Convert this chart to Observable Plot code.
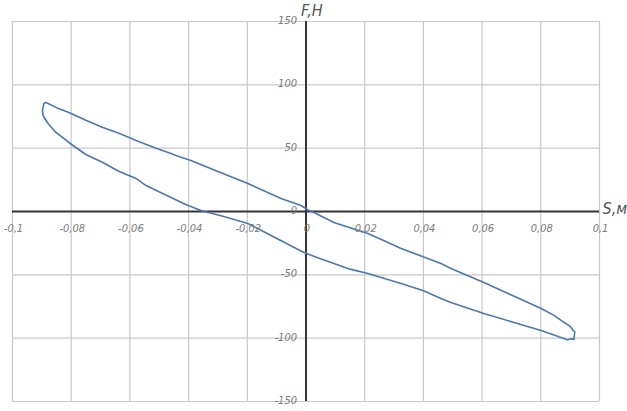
<!DOCTYPE html>
<html>
<head>
<meta charset="utf-8">
<script src="https://cdn.jsdelivr.net/npm/d3@7"></script>
<script src="https://cdn.jsdelivr.net/npm/@observablehq/plot@0.6"></script>
<style>
  html, body { margin: 0; padding: 0; background: #fff; }
  svg { overflow: visible; }
  svg text { font-stretch: condensed; }
</style>
</head>
<body>
<div id="chart"></div>
<script>
// Displacement S (m) and force F (N) read along the hysteresis loop
// upper branch (left tip -> right tip)
const upperS = [-0.0893, -0.0886, -0.0850, -0.0808, -0.0750, -0.0692, -0.0635, -0.0579, -0.0520, -0.0460, -0.0443, -0.0392, -0.0300, -0.0198, -0.0140, -0.0085, -0.0017, 0.0010, 0.0027, 0.0095, 0.0150, 0.0211, 0.0270, 0.0324, 0.0390, 0.0460, 0.0494, 0.0550, 0.0606, 0.0700, 0.0801, 0.0845, 0.0879, 0.0900, 0.0910, 0.0916, 0.0913];
const upperF = [85.3, 86.0, 82.0, 78.2, 72.0, 66.3, 61.5, 56.1, 50.8, 45.8, 44.2, 40.3, 31.5, 22.1, 16.0, 10.3, 4.7, 0.8, -0.8, -8.7, -12.8, -17.4, -23.5, -29.2, -35.0, -41.1, -45.0, -50.5, -56.1, -66.0, -76.6, -82.0, -87.6, -90.5, -93.9, -95.0, -100.3];
// lower branch (right tip -> left tip)
const lowerS = [0.0913, 0.0905, 0.0890, 0.0869, 0.0801, 0.0700, 0.0606, 0.0494, 0.0460, 0.0400, 0.0324, 0.0211, 0.0150, 0.0095, 0.0040, -0.0007, -0.0060, -0.0119, -0.0198, -0.0280, -0.0358, -0.0410, -0.0460, -0.0545, -0.0579, -0.0640, -0.0692, -0.0750, -0.0794, -0.0852, -0.0879, -0.0896, -0.0898, -0.0893];
const lowerF = [-101.0, -100.5, -101.2, -99.5, -93.9, -87.0, -80.5, -71.8, -68.7, -62.5, -56.8, -48.9, -45.5, -41.1, -36.5, -32.4, -26.0, -18.9, -9.5, -4.0, 0.8, 5.5, 11.1, 20.5, 26.1, 32.0, 38.7, 45.0, 52.1, 62.4, 69.5, 75.8, 80.0, 85.3];

// tick values and their labels
const xTicks = [-0.1, -0.08, -0.06, -0.04, -0.02, 0, 0.02, 0.04, 0.06, 0.08, 0.1];
const xTickLabels = ["-0,1", "-0,08", "-0,06", "-0,04", "-0,02", "0", "0,02", "0,04", "0,06", "0,08", "0,1"];
const yTicks = [150, 100, 50, 0, -50, -100, -150];
const yTickLabels = ["150", "100", "50", "0", "-50", "-100", "-150"];
const xName = "S,м";
const yName = "F,Н";

const loop = [
  ...upperS.map((s, i) => ({s, f: upperF[i]})),
  ...lowerS.map((s, i) => ({s, f: lowerF[i]}))
];
const xLab = xTicks.map((v, i) => ({v, t: xTickLabels[i]}));
const yLab = yTicks.map((v, i) => ({v, t: yTickLabels[i]}));

const font = "'DejaVu Sans Condensed', 'DejaVu Sans', sans-serif";

const chart = Plot.plot({
  width: 627,
  height: 411,
  marginLeft: 12,
  marginRight: 28,
  marginTop: 21,
  marginBottom: 10,
  style: {background: "#fff", fontFamily: font},
  x: {domain: [-0.1, 0.1], axis: null},
  y: {domain: [-150, 150], axis: null},
  marks: [
    Plot.ruleX(xTicks, {stroke: "#c9c9c9", strokeWidth: 1.2}),
    Plot.ruleY(yTicks, {stroke: "#c9c9c9", strokeWidth: 1.2}),
    Plot.ruleX([0], {stroke: "#333", strokeWidth: 2}),
    Plot.ruleY([0], {stroke: "#333", strokeWidth: 2}),
    Plot.line(loop, {x: "s", y: "f", stroke: "#4a78b0", strokeWidth: 1.6, curve: "linear"}),
    Plot.text(xLab, {x: "v", y: 0, text: "t", dx: 1, dy: 17, fill: "#7a7a7a", fontSize: 11, fontStyle: "italic", fontFamily: font}),
    Plot.text(yLab, {x: 0, y: "v", text: "t", dx: -9, dy: -1, textAnchor: "end", fill: "#7a7a7a", fontSize: 11, fontStyle: "italic", fontFamily: font}),
    Plot.text([xName], {x: 0.1, y: 0, text: d => d, dx: 3, dy: -3, textAnchor: "start", fill: "#555", fontSize: 16, fontStyle: "italic", fontFamily: font}),
    Plot.text([yName], {x: 0, y: 150, text: d => d, dx: -5, dy: -11, textAnchor: "start", fill: "#555", fontSize: 16, fontStyle: "italic", fontFamily: font})
  ]
});
document.getElementById("chart").appendChild(chart);
</script>
</body>
</html>
